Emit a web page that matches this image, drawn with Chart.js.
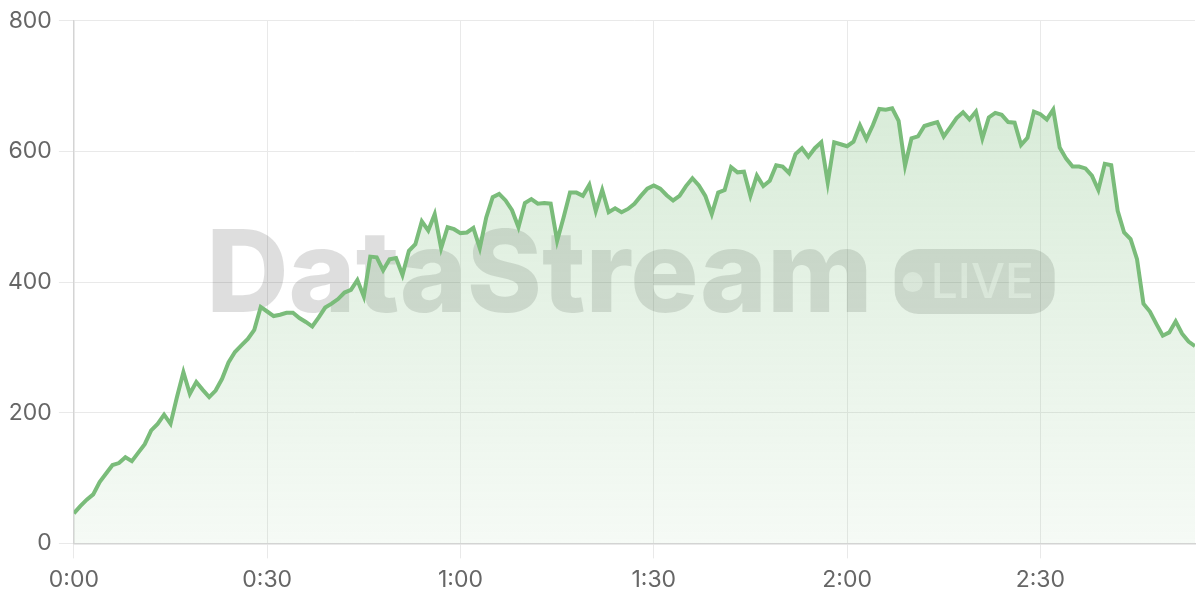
<!DOCTYPE html>
<html>
<head>
<meta charset="utf-8">
<script src="https://cdn.jsdelivr.net/npm/chart.js@4.4.1/dist/chart.umd.min.js"></script>
<style>
    html, body { margin: 0; padding: 0; background: #fff; }
    #wrap { width: 1200px; height: 600px; position: relative; }
</style>
</head>
<body>
<div id="wrap"><canvas id="streamChart"></canvas></div>
<script>
// --- Data (one sample per minute) ---
const viewers = [
    46, 57, 67, 75, 94, 107, 120, 123, 132, 126,
    139, 152, 173, 183, 197, 183, 224, 262, 229, 247,
    235, 224, 234, 252, 277, 293, 303, 313, 327, 362,
    355, 348, 350, 353, 353, 345, 339, 332, 346, 361,
    367, 374, 384, 388, 403, 378, 439, 438, 418, 435,
    437, 411, 448, 458, 493, 479, 504, 452, 484, 481,
    475, 476, 483, 452, 499, 530, 535, 525, 510, 484,
    521, 527, 520, 521, 520, 463, 499, 537, 537, 532,
    549, 509, 541, 507, 513, 507, 512, 520, 532, 543,
    548, 543, 533, 525, 532, 547, 559, 548, 532, 504,
    537, 541, 576, 568, 569, 532, 563, 547, 555, 579,
    577, 567, 596, 605, 592, 605, 614, 552, 614, 611,
    608, 615, 640, 619, 640, 665, 664, 666, 647, 578,
    620, 623, 639, 642, 645, 623, 637, 651, 660, 649,
    661, 620, 652, 659, 656, 645, 644, 610, 621, 661,
    657, 649, 664, 606, 589, 577, 577, 574, 563, 541,
    581, 579, 509, 476, 466, 435, 367, 355, 336, 318,
    323, 340, 321, 309, 302
];
const xTickValues = [0, 30, 60, 90, 120, 150];
const xTickLabels = ['0:00', '0:30', '1:00', '1:30', '2:00', '2:30'];
const yTickValues = [0, 200, 400, 600, 800];
const watermarkText = 'DataStream';
const badgeText = 'LIVE';

// --- Styles ---
const FONT = 'Inter';
const lineColor = 'rgb(122, 188, 122)';
const gridColor = '#e9e9e9';
const axisColor = '#d4d4d4';
const labelColor = '#666666';

// x = minute index of each sample
const points = viewers.map((v, i) => ({ x: i, y: v }));

// Watermark drawn behind the line
const watermarkPlugin = {
    id: 'watermark',
    beforeDatasetsDraw(chart) {
        const { ctx, chartArea: ca } = chart;
        const cx = (ca.left + ca.right) / 2 - 4;
        const cy = (ca.top + ca.bottom) / 2;
        ctx.save();
        ctx.font = `800 114px ${FONT}`;
        const w = ctx.measureText(watermarkText).width;
        const pillW = 160, pillH = 65, gap = 22;
        const x0 = cx - (w + gap + pillW) / 2;
        ctx.fillStyle = 'rgba(0, 0, 0, 0.13)';
        ctx.textBaseline = 'alphabetic';
        ctx.fillText(watermarkText, x0, cy + 30);

        const px = x0 + w + gap;
        const py = cy - 33;
        ctx.beginPath();
        ctx.roundRect(px, py, pillW, pillH, 24);
        ctx.fill();

        ctx.fillStyle = 'rgba(255, 255, 255, 0.55)';
        ctx.beginPath();
        ctx.arc(px + 18, cy, 10, 0, Math.PI * 2);
        ctx.fill();
        ctx.font = `500 48px ${FONT}`;
        ctx.fillText(badgeText, px + 36, cy + 16);
        ctx.restore();
    }
};

const tickFont = { family: FONT, size: 23 };

new Chart(document.getElementById('streamChart'), {
    type: 'line',
    data: {
        datasets: [{
            data: points,
            borderColor: lineColor,
            borderWidth: 4,
            pointRadius: 0,
            tension: 0,
            fill: 'origin',
            backgroundColor: (context) => {
                const { chart } = context;
                const ca = chart.chartArea;
                if (!ca) return 'rgba(122, 188, 122, 0.2)';
                const g = chart.ctx.createLinearGradient(0, ca.top, 0, ca.bottom);
                g.addColorStop(0, 'rgba(122, 188, 122, 0.33)');
                g.addColorStop(1, 'rgba(122, 188, 122, 0.07)');
                return g;
            }
        }]
    },
    options: {
        responsive: true,
        maintainAspectRatio: false,
        animation: false,
        layout: { padding: { top: 7, right: 5, bottom: -2, left: 1 } },
        plugins: {
            legend: { display: false },
            tooltip: { enabled: false }
        },
        scales: {
            x: {
                type: 'linear',
                min: 0,
                max: viewers.length - 1,
                afterBuildTicks: (scale) => { scale.ticks = xTickValues.map(v => ({ value: v })); },
                grid: { color: gridColor, tickLength: 15 },
                border: { color: axisColor, width: 1.5 },
                ticks: {
                    color: labelColor,
                    font: tickFont,
                    padding: 8,
                    maxRotation: 0,
                    callback: (v) => xTickLabels[xTickValues.indexOf(v)]
                }
            },
            y: {
                min: 0,
                max: 800,
                afterBuildTicks: (scale) => { scale.ticks = yTickValues.map(v => ({ value: v })); },
                grid: { color: gridColor, tickLength: 15 },
                border: { color: axisColor, width: 1.5 },
                ticks: { color: labelColor, font: tickFont, padding: 7 }
            }
        }
    },
    plugins: [watermarkPlugin]
});
</script>
</body>
</html>
